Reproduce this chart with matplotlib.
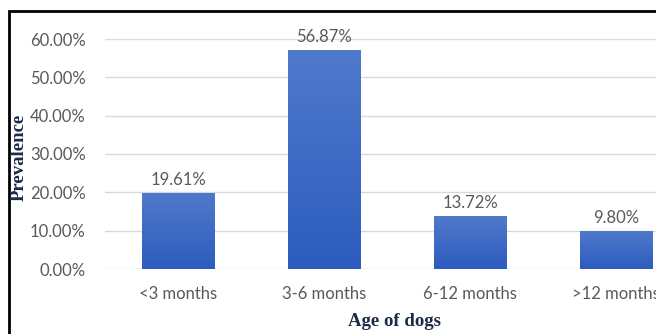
import numpy as np
import matplotlib
matplotlib.use("Agg")
import matplotlib.pyplot as plt
from matplotlib.patches import Rectangle
from matplotlib.colors import LinearSegmentedColormap

# data
age_groups = ["<3 months", "3-6 months", "6-12 months", ">12 months"]
prevalence = [19.61, 56.87, 13.72, 9.80]
y_ticks = [0, 10, 20, 30, 40, 50, 60]

W, H = 656, 334
fig = plt.figure(figsize=(W / 100, H / 100), dpi=100)
ax = fig.add_axes([105 / W, 1 - 269 / H, (689 - 105) / W, (269 - 39) / H])

tick_font = ["Lato", "DejaVu Sans"]
label_font = ["Liberation Serif", "DejaVu Serif"]
grey = "#595959"
fs = 12

x = np.arange(len(age_groups))
bw = 0.495
grad = LinearSegmentedColormap.from_list("g", ["#2c5cbf", "#5079cb"])
for xi, v in zip(x, prevalence):
    img = np.linspace(0, 1, 100).reshape(-1, 1)
    ax.imshow(img, cmap=grad, origin="lower", aspect="auto",
              extent=[xi - bw / 2, xi + bw / 2, 0, v], zorder=3)
    ax.text(xi, v + 1.5, f"{v:.2f}%", ha="center", va="bottom",
            fontsize=fs, color=grey, family=tick_font)

ax.set_xlim(-0.5, 3.5)
ax.set_ylim(0, 60)
ax.set_yticks(y_ticks)
ax.set_yticklabels([f"{t:.2f}%" for t in y_ticks], family=tick_font,
                   fontsize=fs, color=grey)
ax.set_xticks(x)
ax.set_xticklabels(age_groups, family=tick_font, fontsize=fs, color=grey)
ax.tick_params(length=0, pad=14)
ax.tick_params(axis="x", pad=12)
ax.grid(axis="y", color="#d9d9d9", linewidth=1)
ax.set_axisbelow(True)
for s in ax.spines.values():
    s.set_visible(False)

navy = "#1c2a48"
fig.text(19 / W, 1 - 157 / H, "Prevalence", rotation=90, ha="center", va="center",
         family=label_font, fontweight="bold", fontsize=13.5, color=navy)
fig.text(394 / W, 1 - 322 / H, "Age of dogs", ha="center", va="center",
         family=label_font, fontweight="bold", fontsize=13.5, color=navy)

# cropped black frame around the chart
fig.patches.append(Rectangle((9 / W, -0.1), 1.2, 1 - 11 / H + 0.1,
                             transform=fig.transFigure, fill=False,
                             edgecolor="black", linewidth=2))

fig.savefig("out.png", dpi=100)
